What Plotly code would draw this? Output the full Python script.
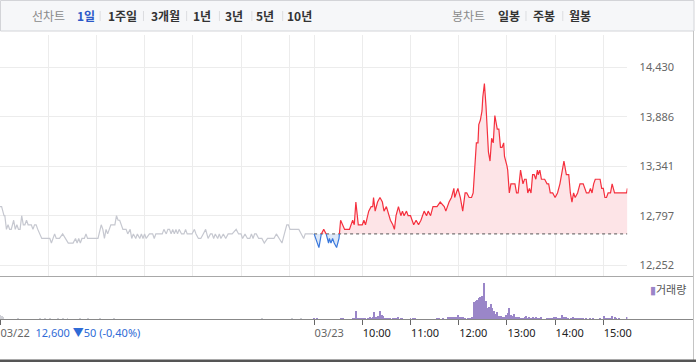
import plotly.graph_objects as go

# ---------------- data ----------------
prev_close = 12600          # 전일 종가 (03/22)
day2_offset = 391           # x index where 03/23 session starts (09:00)

ytick_vals = [12252, 12797, 13341, 13886, 14430]
ytick_text = ["12,252", "12,797", "13,341", "13,886", "14,430"]

# 03/22 session (minutes after 09:00) and prices
prev_minutes = [0, 2, 5, 6, 8, 10, 12, 14, 17, 19, 21, 23, 25, 27, 29, 31, 33, 35, 39, 41,
                43, 45, 47, 50, 52, 56, 62, 64, 68, 70, 74, 78, 81, 85, 91, 94, 96, 98, 100, 102,
                105, 107, 109, 122, 126, 128, 130, 132, 134, 138, 143, 145, 147, 149, 153, 155, 157, 159, 162, 164,
                166, 169, 171, 174, 176, 178, 180, 182, 186, 190, 192, 194, 202, 204, 207, 209, 211, 213, 215, 217,
                219, 221, 223, 226, 229, 231, 233, 235, 239, 242, 244, 247, 250, 253, 256, 259, 262, 264, 266, 268,
                271, 273, 275, 278, 281, 284, 289, 294, 297, 300, 302, 305, 308, 311, 313, 315, 317, 319, 322, 326,
                329, 333, 341, 344, 347, 351, 354, 357, 359, 361, 372, 378, 380, 390]
prev_prices = [12900, 12900, 12800, 12800, 12650, 12700, 12650, 12650, 12750, 12650, 12700, 12650, 12650, 12800, 12700, 12700, 12750, 12700, 12700, 12650,
               12700, 12700, 12650, 12600, 12550, 12550, 12550, 12500, 12600, 12550, 12550, 12600, 12550, 12500, 12500, 12550, 12500, 12550, 12500, 12550,
               12550, 12600, 12550, 12550, 12700, 12650, 12550, 12650, 12600, 12700, 12700, 12800, 12750, 12750, 12650, 12650, 12650, 12600, 12650, 12550,
               12600, 12550, 12600, 12550, 12600, 12550, 12600, 12550, 12600, 12600, 12550, 12600, 12600, 12650, 12600, 12650, 12650, 12600, 12650, 12600,
               12650, 12600, 12650, 12600, 12600, 12650, 12600, 12600, 12600, 12650, 12600, 12550, 12550, 12600, 12650, 12550, 12600, 12600, 12550, 12600,
               12550, 12600, 12550, 12600, 12550, 12600, 12600, 12650, 12600, 12600, 12550, 12600, 12550, 12550, 12600, 12550, 12600, 12600, 12550, 12550,
               12500, 12550, 12550, 12600, 12550, 12500, 12600, 12700, 12700, 12650, 12650, 12550, 12600, 12600]

# 03/23 session (minutes after 09:00) and prices
today_minutes = [0, 6, 9, 12, 15, 18, 19, 21, 23, 25, 28, 31, 33, 38, 44, 48, 50, 52, 55, 60,
                 62, 64, 68, 71, 73, 74, 76, 79, 82, 85, 87, 90, 93, 95, 98, 100, 102, 105, 108, 110,
                 112, 115, 117, 120, 122, 124, 127, 130, 133, 135, 137, 140, 142, 145, 148, 153, 157, 162, 164, 168,
                 171, 174, 175, 177, 179, 182, 185, 188, 190, 193, 196, 198, 200, 202, 204, 205, 207, 209, 210, 212,
                 214, 216, 217, 219, 221, 223, 225, 228, 230, 232, 234, 236, 237, 240, 241, 243, 245, 250, 252, 254,
                 257, 260, 262, 264, 266, 268, 270, 272, 274, 276, 278, 279, 281, 283, 287, 290, 292, 294, 297, 300,
                 303, 306, 309, 311, 314, 317, 319, 321, 323, 325, 328, 331, 335, 337, 339, 342, 344, 346, 348, 350,
                 356, 358, 360, 362, 364, 366, 369, 371, 374, 389, 390]
today_prices = [12600, 12450, 12600, 12650, 12600, 12500, 12550, 12500, 12550, 12500, 12450, 12550, 12750, 12650, 12650, 12750, 12700, 12950, 12700, 12700,
                12750, 12700, 12850, 12900, 12900, 13000, 12850, 12950, 13000, 12950, 12850, 12900, 12800, 12750, 12700, 12650, 12800, 12900, 12800, 12850,
                12800, 12850, 12800, 12800, 12750, 12700, 12750, 12700, 12750, 12800, 12850, 12800, 12850, 12800, 12900, 12900, 12950, 12900, 12850, 12950,
                13000, 13100, 13000, 13050, 13100, 13000, 12850, 13050, 13050, 13000, 13000, 13050, 13300, 13600, 13600, 13800, 13850, 13950, 14100, 14250,
                14000, 13700, 13500, 13400, 13650, 13600, 13900, 13750, 13750, 13550, 13550, 13600, 13450, 13350, 13300, 13050, 13150, 13150, 13050, 13050,
                13300, 13150, 13200, 13200, 13050, 13100, 13050, 13250, 13250, 13200, 13300, 13250, 13300, 13200, 13200, 13150, 13150, 13050, 13050, 13000,
                13050, 13150, 13300, 13400, 13250, 13250, 13050, 12950, 13050, 13000, 13050, 13150, 13150, 13100, 13050, 13050, 13100, 13050, 13150, 13200,
                13200, 13100, 13100, 13000, 13000, 13050, 13050, 13150, 13050, 13050, 13100]

# volume (shares)
prev_vol_minutes = [0, 2, 4, 22, 50, 56, 62, 72, 78, 84, 99, 109, 124, 142, 326, 363, 375]
prev_vol_values = [4000, 3000, 2000, 1000, 1000, 1000, 1000, 1000, 1000, 1000, 1000, 1000, 1000, 1000, 1000, 1000, 1000]

today_vol_minutes = [0, 4, 33, 36, 48, 50, 52, 54, 56, 58, 60, 62, 64, 67, 69, 71, 73, 75, 77, 79,
                     82, 84, 86, 88, 90, 92, 95, 98, 100, 102, 105, 108, 110, 120, 123, 126, 153, 155, 160, 167,
                     169, 171, 173, 175, 177, 179, 182, 184, 186, 188, 191, 193, 195, 197, 199, 201, 203, 205, 207, 209,
                     212, 214, 216, 218, 220, 222, 224, 226, 228, 230, 233, 235, 237, 239, 241, 243, 245, 247, 249, 251,
                     253, 255, 258, 260, 262, 264, 266, 268, 270, 272, 274, 276, 279, 281, 283, 290, 292, 295, 297, 299,
                     301, 303, 305, 307, 309, 311, 313, 316, 320, 322, 324, 326, 328, 331, 333, 335, 338, 343, 347, 356,
                     361, 363, 366, 368, 371, 374, 376, 380, 389]
today_vol_values = [1000, 1000, 1000, 1000, 1000, 1000, 8300, 1000, 1000, 1700, 1000, 1700, 1000, 1700, 2700, 1700, 2700, 7300, 2700, 3300,
                    8300, 4300, 3300, 1700, 1700, 1000, 1700, 1000, 1700, 1000, 2300, 1700, 1000, 1000, 1000, 1000, 1000, 1000, 1000, 2300,
                    2300, 2300, 2300, 2300, 2300, 4000, 2300, 2300, 2300, 1700, 1700, 1700, 1700, 2300, 17300, 18300, 19300, 21000, 22000, 23700,
                    36700, 18300, 11000, 12700, 15000, 11700, 8300, 5000, 7300, 3300, 3300, 2700, 2700, 4300, 6700, 11000, 4300, 3300, 5000, 2700,
                    2700, 2700, 1700, 1700, 2700, 3300, 1700, 2700, 1700, 2700, 1700, 2700, 1700, 1700, 2700, 1700, 1700, 1700, 1700, 2700,
                    2700, 1700, 1700, 1700, 4300, 2700, 2700, 1700, 1700, 2700, 1700, 1700, 1700, 1700, 1700, 1700, 1700, 1700, 1700, 1700,
                    3300, 1700, 1700, 1700, 3300, 2300, 1700, 1700, 2700]

hour_minutes = [60, 120, 180, 240, 300, 360]
x_tick_text = ["10:00", "11:00", "12:00", "13:00", "14:00", "15:00"]
day_labels = ["03/22", "03/23"]
prev_day_summary = "12,600 ▼50 (-0,40%)"

tabs_left = ["1일", "1주일", "3개월", "1년", "3년", "5년", "10년"]
tabs_right = ["일봉", "주봉", "월봉"]

assert len(prev_minutes) == len(prev_prices)
assert len(today_minutes) == len(today_prices)
assert len(prev_vol_minutes) == len(prev_vol_values)
assert len(today_vol_minutes) == len(today_vol_values)

# ---------------- styling ----------------
W, H = 700, 362
RED, BLUE, GREY = "#f5303e", "#3a78dc", "#c6c8d0"
PINK_FILL, BLUE_FILL = "#fde4e7", "#dce8f8"
VOL_COLOR, VOL_PREV = "#9a86c8", "#cfd0d6"
NUM_FONT = "Noto Sans, Noto Sans CJK KR, sans-serif"
KR_FONT = "Noto Sans CJK KR, Noto Sans, sans-serif"


def fx(px):
    return px / W


def fy(py):
    return 1 - py / H


x_prev = list(prev_minutes)
x_today = [day2_offset + m for m in today_minutes]

# split today's line at the previous-close level
px_, py_ = [x_today[0]], [today_prices[0]]
for i in range(1, len(x_today)):
    x0, y0, x1, y1 = x_today[i - 1], today_prices[i - 1], x_today[i], today_prices[i]
    if (y0 - prev_close) * (y1 - prev_close) < 0:
        px_.append(x0 + (prev_close - y0) * (x1 - x0) / (y1 - y0))
        py_.append(prev_close)
    px_.append(x1)
    py_.append(y1)

up_x, up_y, dn_x, dn_y = [], [], [], []
last = None
for i in range(1, len(px_)):
    cls = "up" if (py_[i - 1] + py_[i]) / 2 > prev_close else "dn"
    tx, ty = (up_x, up_y) if cls == "up" else (dn_x, dn_y)
    if cls != last:
        if tx:
            tx.append(None)
            ty.append(None)
        tx.append(px_[i - 1])
        ty.append(py_[i - 1])
    tx.append(px_[i])
    ty.append(py_[i])
    last = cls

fill_up = [max(v, prev_close) for v in py_]
fill_dn = [min(v, prev_close) for v in py_]
n = len(px_)

fig = go.Figure()

# fills
fig.add_trace(go.Scatter(x=px_ + px_[::-1], y=fill_up + [prev_close] * n, fill="toself",
                         fillcolor=PINK_FILL, line=dict(width=0), mode="lines",
                         hoverinfo="skip", showlegend=False, xaxis="x", yaxis="y"))
fig.add_trace(go.Scatter(x=px_ + px_[::-1], y=fill_dn + [prev_close] * n, fill="toself",
                         fillcolor=BLUE_FILL, line=dict(width=0), mode="lines",
                         hoverinfo="skip", showlegend=False, xaxis="x", yaxis="y"))
# previous close dotted line
fig.add_trace(go.Scatter(x=[day2_offset, day2_offset + 390], y=[prev_close, prev_close], mode="lines",
                         line=dict(color="#555555", width=1, dash="dot"),
                         hoverinfo="skip", showlegend=False, xaxis="x", yaxis="y"))
# previous day line
fig.add_trace(go.Scatter(x=x_prev, y=prev_prices, mode="lines",
                         line=dict(color=GREY, width=1.2), showlegend=False, xaxis="x", yaxis="y"))
# today lines
fig.add_trace(go.Scatter(x=dn_x, y=dn_y, mode="lines", line=dict(color=BLUE, width=1.2),
                         showlegend=False, xaxis="x", yaxis="y", connectgaps=False))
fig.add_trace(go.Scatter(x=up_x, y=up_y, mode="lines", line=dict(color=RED, width=1.2),
                         showlegend=False, xaxis="x", yaxis="y", connectgaps=False))

# volume
fig.add_trace(go.Bar(x=prev_vol_minutes, y=prev_vol_values, width=1.2, marker=dict(color=VOL_PREV, line=dict(width=0)),
                     showlegend=False, xaxis="x2", yaxis="y2"))
fig.add_trace(go.Bar(x=[day2_offset + m for m in today_vol_minutes], y=today_vol_values, width=1.2,
                     marker=dict(color=VOL_COLOR, line=dict(width=0)), name="거래량",
                     showlegend=False, xaxis="x2", yaxis="y2"))

grid_vals = hour_minutes + [day2_offset] + [day2_offset + m for m in hour_minutes]
xr = [0, day2_offset + 390]

label_vals = [0, day2_offset] + [day2_offset + m for m in hour_minutes]
label_text = [f"<span style='color:#666666'>{day_labels[0]}</span>&nbsp;&nbsp;<span style='color:#2f6bd6'>{prev_day_summary}</span>",
              f"<span style='color:#666666'>{day_labels[1]}</span>"] + x_tick_text

fig.update_layout(
    width=W, height=H, autosize=False,
    margin=dict(l=0, r=0, t=0, b=0),
    paper_bgcolor="white", plot_bgcolor="white",
    bargap=0,
    xaxis=dict(domain=[0, 631 / W], range=xr, tickvals=grid_vals, showticklabels=False,
               ticks="", showgrid=True, gridcolor="#ececec", gridwidth=1, zeroline=False,
               showline=False, anchor="y", fixedrange=True),
    yaxis=dict(domain=[fy(276), fy(35)], range=[12138, 14784], side="right",
               tickvals=ytick_vals, ticktext=ytick_text, showgrid=True, gridcolor="#ececec",
               zeroline=False, showline=False, ticks="outside", ticklen=9,
               tickcolor="rgba(0,0,0,0)", tickfont=dict(family=NUM_FONT, size=11, color="#666666"),
               anchor="x", fixedrange=True),
    xaxis2=dict(domain=[0, 631 / W], range=xr, matches="x", anchor="y2", tickvals=label_vals,
                ticktext=label_text, ticks="outside", ticklen=5, tickcolor="#666666",
                ticklabelposition="outside right", ticklabelstandoff=3,
                showgrid=False, zeroline=False, showline=False,
                tickfont=dict(family=NUM_FONT, size=11, color="#222222"), fixedrange=True),
    yaxis2=dict(domain=[fy(319.3), fy(276)], range=[0, 43300], showticklabels=False, ticks="",
                showgrid=False, zeroline=False, showline=False, anchor="x2", fixedrange=True),
)

shapes = []
# top tab bar
shapes.append(dict(type="rect", xref="paper", yref="paper", x0=fx(0.5), x1=fx(698), y0=fy(0.5), y1=fy(31),
                   fillcolor="#f6f7f9", line=dict(color="#d3d4d8", width=1), layer="below"))
for sx in [100.7, 144.3, 187.7, 220.7, 253.3, 284.3, 529, 566]:
    shapes.append(dict(type="line", xref="paper", yref="paper", x0=fx(sx), x1=fx(sx), y0=fy(11), y1=fy(21),
                       line=dict(color="#dcdde0", width=1)))
# frame lines
shapes.append(dict(type="line", xref="paper", yref="paper", x0=fx(0), x1=fx(697), y0=fy(276.5), y1=fy(276.5),
                   line=dict(color="#a8a8a8", width=1)))
shapes.append(dict(type="line", xref="paper", yref="paper", x0=fx(0), x1=fx(697), y0=fy(319.5), y1=fy(319.5),
                   line=dict(color="#888888", width=1)))
shapes.append(dict(type="line", xref="paper", yref="paper", x0=fx(697.5), x1=fx(697.5), y0=fy(31), y1=fy(360),
                   line=dict(color="#c4c4c4", width=1)))
shapes.append(dict(type="rect", xref="paper", yref="paper", x0=0, x1=1, y0=0, y1=fy(359.5),
                   fillcolor="#555555", line=dict(width=0)))
fig.update_layout(shapes=shapes)

ann = []
ann.append(dict(text="선차트", x=fx(49), y=fy(15.5), xref="paper", yref="paper", showarrow=False,
                xanchor="center", yanchor="middle", font=dict(family=KR_FONT, size=12, color="#8a8a8a")))
left_centers = [86, 123.5, 166, 203.5, 235, 266.5, 301.5]
for t, cx in zip(tabs_left, left_centers):
    col = "#2b58c8" if t == "1일" else "#333333"
    ann.append(dict(text=f"<b>{t}</b>", x=fx(cx), y=fy(15.5), xref="paper", yref="paper", showarrow=False,
                    xanchor="center", yanchor="middle", font=dict(family=KR_FONT, size=12, color=col)))
ann.append(dict(text="봉차트", x=fx(471.5), y=fy(15.5), xref="paper", yref="paper", showarrow=False,
                xanchor="center", yanchor="middle", font=dict(family=KR_FONT, size=12, color="#8a8a8a")))
for t, cx in zip(tabs_right, [512, 547, 583]):
    ann.append(dict(text=f"<b>{t}</b>", x=fx(cx), y=fy(15.5), xref="paper", yref="paper", showarrow=False,
                    xanchor="center", yanchor="middle", font=dict(family=KR_FONT, size=12, color="#333333")))
# volume legend
ann.append(dict(text=f"<span style='color:{VOL_COLOR}'>▮</span>거래량", x=fx(652), y=fy(288.5), xref="paper",
                yref="paper", showarrow=False, xanchor="left", yanchor="middle",
                font=dict(family=KR_FONT, size=11, color="#555555")))
fig.update_layout(annotations=ann)

fig.write_html("out.html", config={"displayModeBar": False},
               post_script="document.body.style.margin='0';document.body.style.padding='0';")
